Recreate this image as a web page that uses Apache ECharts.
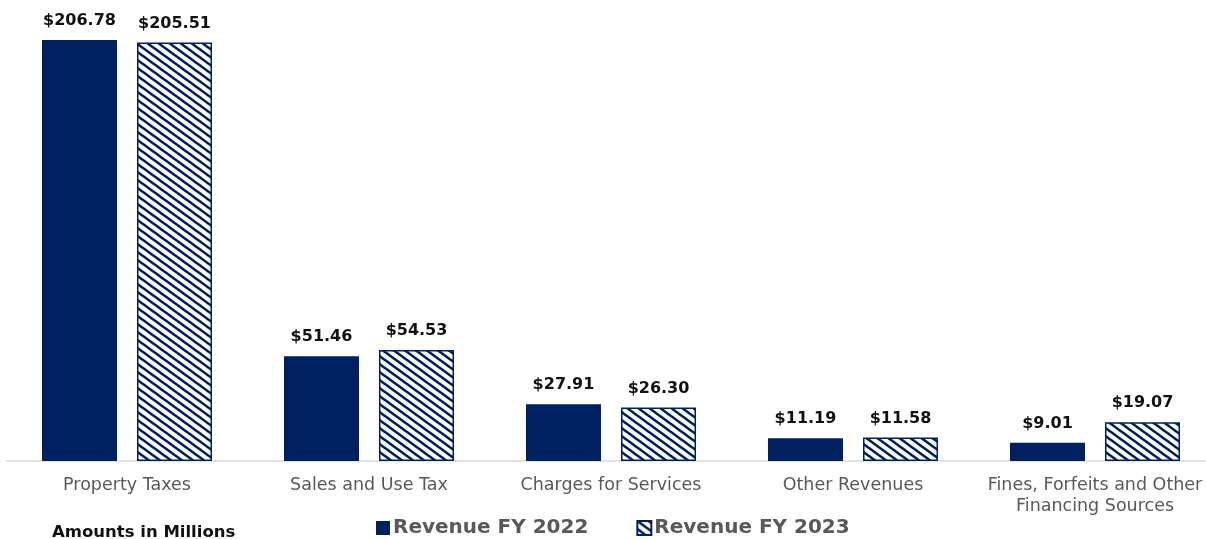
<!DOCTYPE html>
<html>
<head>
<meta charset="utf-8">
<script src="https://cdn.jsdelivr.net/npm/echarts@6/dist/echarts.min.js"></script>
<style>
  html, body { margin: 0; padding: 0; background: #ffffff; overflow: hidden; }
  /* canvas runs a little past the right edge so the last category label is cut off */
  #chart { width: 1216px; height: 539px; }
</style>
</head>
<body>
<div id="chart"></div>
<script>
// Revenue by source, amounts in millions
const categories = [
  'Property Taxes',
  'Sales and Use Tax',
  'Charges for Services',
  'Other Revenues',
  'Fines, Forfeits and Other\nFinancing Sources'
];
const revenueFY2022 = [206.78, 51.46, 27.91, 11.19, 9.01];
const revenueFY2023 = [205.51, 54.53, 26.30, 11.58, 19.07];
const seriesNames = ['Revenue FY 2022', 'Revenue FY 2023'];

const NAVY = '#002060';
const FONT = '"DejaVu Sans", "Noto Sans", sans-serif';

// Diagonal stripe tile for the FY 2023 bars
function makeStripeTile() {
  const w = 11, h = 8;
  const c = document.createElement('canvas');
  c.width = w; c.height = h;
  const g = c.getContext('2d');
  g.fillStyle = '#ffffff';
  g.fillRect(0, 0, w, h);
  g.strokeStyle = NAVY;
  g.lineWidth = 2.6;
  g.beginPath();
  for (let dy = -16; dy <= 16; dy += h) {
    g.moveTo(-w, -h + dy);
    g.lineTo(2 * w, 2 * h + dy);
  }
  g.stroke();
  return c;
}
const stripes = { image: makeStripeTile(), repeat: 'repeat' };

const valueLabel = {
  show: true,
  position: 'top',
  distance: 11,
  color: '#111111',
  fontFamily: FONT,
  fontWeight: 'bold',
  fontSize: 16,
  formatter: p => '$' + p.value.toFixed(2)
};

const chart = echarts.init(document.getElementById('chart'), null, { renderer: 'canvas' });
chart.setOption({
  animation: false,
  backgroundColor: '#ffffff',
  grid: { left: 6, top: 13, right: 0, height: 448, containLabel: false },
  xAxis: {
    type: 'category',
    data: categories,
    axisTick: { show: false },
    axisLine: { lineStyle: { color: '#d9d9d9', width: 1.5 } },
    axisLabel: {
      color: '#595959',
      fontFamily: FONT,
      fontSize: 17.5,
      margin: 14,
      lineHeight: 21,
      interval: 0
    }
  },
  yAxis: {
    type: 'value',
    min: 0,
    max: 220,
    show: false,
    splitLine: { show: false }
  },
  legend: {
    left: 376,
    top: 518,
    padding: 0,
    itemWidth: 14,
    itemHeight: 14,
    itemGap: 48,
    icon: 'rect',
    textStyle: {
      color: '#595959',
      fontFamily: FONT,
      fontWeight: 'bold',
      fontSize: 20,
      padding: [0, 0, 0, -2]
    },
    data: seriesNames
  },
  series: [
    {
      name: seriesNames[0],
      type: 'bar',
      data: revenueFY2022,
      barWidth: 75,
      barGap: '26.7%',
      itemStyle: { color: NAVY },
      label: valueLabel
    },
    {
      name: seriesNames[1],
      type: 'bar',
      data: revenueFY2023,
      barWidth: 75,
      itemStyle: { color: stripes, borderColor: NAVY, borderWidth: 1.5 },
      label: valueLabel
    }
  ],
  graphic: [
    {
      type: 'text',
      left: 52,
      top: 524,
      style: {
        text: 'Amounts in Millions',
        fill: '#111111',
        font: 'bold 16.5px ' + FONT
      }
    }
  ]
});
</script>
</body>
</html>
